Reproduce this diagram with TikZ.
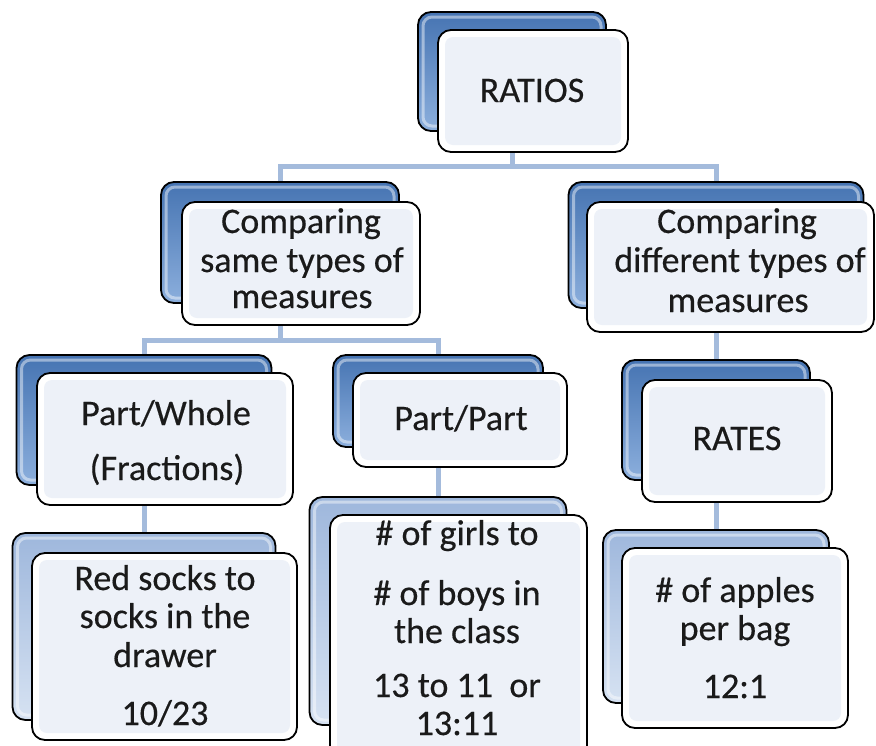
\documentclass[tikz,border=0pt]{standalone}
\usepackage{fontspec}
\setmainfont{Carlito}[FakeBold=0.4]
\pgfdeclarelayer{bg}
\pgfsetlayers{bg,main}
\definecolor{connblue}{HTML}{A4BBDC}
\definecolor{buA}{HTML}{4674B2}
\definecolor{buB}{HTML}{8CAFDD}
\definecolor{blA}{HTML}{9EB7DC}
\definecolor{blB}{HTML}{D6E2F2}
\definecolor{frontin}{HTML}{EDF1F8}
\definecolor{txtc}{HTML}{1A1A1A}
\tikzset{
  conn/.style={line width=5pt, draw=connblue},
  boxbase/.style={draw=black, line width=1.8pt, rounded corners=13pt, inner sep=0pt},
  backhi/.style={path picture={\draw[white, opacity=.45, line width=3pt, rounded corners=9pt]
      ([shift={(5pt,-5pt)}]path picture bounding box.north west) rectangle
      ([shift={(-5pt,5pt)}]path picture bounding box.south east);}},
  backU/.style={boxbase, top color=buA, bottom color=buB, backhi},
  backL/.style={boxbase, top color=blA, bottom color=blB, backhi},
  front/.style={boxbase, fill=white,
    path picture={\fill[frontin, rounded corners=8pt]
      ([shift={(7pt,-7pt)}]path picture bounding box.north west) rectangle
      ([shift={(-7pt,7pt)}]path picture bounding box.south east);}},
  lbl/.style={anchor=base, inner sep=0pt, text=txtc, font=\fontsize{36}{40}\selectfont}
}
\begin{document}
\begin{tikzpicture}[x=1pt, y=-1pt]
\clip (0,0) rectangle (876,745);
% RATIOS
\node[backU, minimum width=188pt, minimum height=119pt] (ratiosB) at (512,71.5) {};
\node[front, minimum width=190pt, minimum height=122pt] (ratiosF) at (533,91) {};
\node[lbl] (ratiosT) at (532,102) {RATIOS};
% Comparing same
\node[backU, minimum width=238pt, minimum height=121pt] (sameB) at (280,242.5) {};
\node[front, minimum width=238pt, minimum height=123pt] (sameF) at (301,263.5) {};
\node[lbl] (sameT1) at (301,233) {Comparing};
\node[lbl] (sameT2) at (302,272) {same types of};
\node[lbl] (sameT3) at (302,308) {measures};
% Comparing different
\node[backU, minimum width=295pt, minimum height=126pt] (diffB) at (716,245) {};
\node[front, minimum width=287pt, minimum height=130pt] (diffF) at (730.5,267) {};
\node[lbl] (diffT1) at (737,233) {Comparing};
\node[lbl] (diffT2) at (740,272) {different types of};
\node[lbl] (diffT3) at (738,312) {measures};
% Part/Whole
\node[backU, minimum width=255pt, minimum height=130pt] (wholeB) at (144,420) {};
\node[front, minimum width=256pt, minimum height=132pt] (wholeF) at (165,439) {};
\node[lbl] (wholeT1) at (166,425) {Part/Whole};
\node[lbl] (wholeT2) at (167,480) {(Fractions)};
% Part/Part
\node[backU, minimum width=210pt, minimum height=92pt] (partB) at (438,401) {};
\node[front, minimum width=214pt, minimum height=94pt] (partF) at (460,420) {};
\node[lbl] (partT) at (461,430) {Part/Part};
% RATES
\node[backU, minimum width=188pt, minimum height=120pt] (ratesB) at (716,420) {};
\node[front, minimum width=190pt, minimum height=122pt] (ratesF) at (737,441) {};
\node[lbl] (ratesT) at (737,450) {RATES};
% Red socks
\node[backL, minimum width=263pt, minimum height=187pt] (socksB) at (144,626.5) {};
\node[front, minimum width=265pt, minimum height=187pt] (socksF) at (164.5,646.5) {};
\node[lbl] (socksT1) at (165,590) {Red socks to};
\node[lbl] (socksT2) at (165,628) {socks in the};
\node[lbl] (socksT3) at (165,667) {drawer};
\node[lbl] (socksT4) at (165,725) {10/23};
% Girls
\node[backL, minimum width=257pt, minimum height=228pt] (girlsB) at (438,611) {};
\node[front, minimum width=257pt, minimum height=250pt] (girlsF) at (458.5,640) {};
\node[lbl] (girlsT1) at (457,545) {\# of girls to};
\node[lbl] (girlsT2) at (457,605) {\# of boys in};
\node[lbl] (girlsT3) at (457,643) {the class};
\node[lbl] (girlsT4) at (457,697) {13 to 11~ or};
\node[lbl] (girlsT5) at (457,735) {13:11};
% Apples
\node[backL, minimum width=226pt, minimum height=173pt] (applesB) at (716,616.5) {};
\node[front, minimum width=226pt, minimum height=180pt] (applesF) at (735,638) {};
\node[lbl] (applesT1) at (735,602) {\# of apples};
\node[lbl] (applesT2) at (735,640) {per bag};
\node[lbl] (applesT3) at (735,698) {12:1};
% connectors
\coordinate (bus1) at (512,166);
\coordinate (bus2) at (280,340);
\begin{pgfonlayer}{bg}
\fill[white] (0,0) rectangle (876,745);
\draw[conn] (ratiosB.center) -- (bus1);
\draw[conn] (sameB.center) |- (bus1) -| (diffB.center);
\draw[conn] (sameB.center) -- (bus2);
\draw[conn] (wholeB.center) |- (bus2) -| (partB.center);
\draw[conn] (wholeB.center) -- (socksB.center);
\draw[conn] (partB.center) -- (girlsB.center);
\draw[conn] (diffB.center) -- (ratesB.center);
\draw[conn] (ratesB.center) -- (applesB.center);
\end{pgfonlayer}
\end{tikzpicture}
\end{document}
